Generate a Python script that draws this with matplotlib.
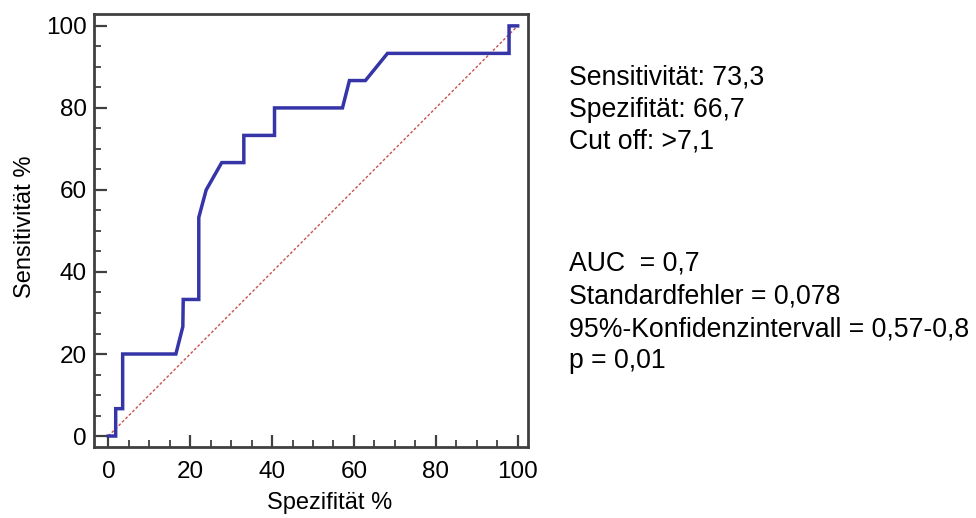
import matplotlib
matplotlib.use('Agg')
import matplotlib.pyplot as plt
from matplotlib.ticker import MultipleLocator

plt.rcParams['font.family'] = ['Liberation Sans', 'DejaVu Sans']

spez = [0, 1.8, 1.8, 3.5, 3.5, 16.5, 18.2, 18.3, 22.1, 22.1, 23.9, 27.7,
        33.1, 33.1, 40.6, 40.6, 57.2, 58.9, 62.8, 68.2, 97.9, 97.9, 100]
sens = [0, 0, 6.67, 6.67, 20, 20, 26.67, 33.3, 33.3, 53.3, 60, 66.67,
        66.67, 73.3, 73.3, 80, 80, 86.67, 86.67, 93.3, 93.3, 100, 100]
diag = [0, 100]

block1 = ['Sensitivität: 73,3', 'Spezifität: 66,7', 'Cut off: >7,1']
block2 = ['AUC  = 0,7', 'Standardfehler = 0,078',
          '95%-Konfidenzintervall = 0,57-0,8', 'p = 0,01']

W, H = 976, 518
fig = plt.figure(figsize=(W / 100, H / 100), dpi=100)
ax = fig.add_axes([94 / W, 1 - 446.7 / H, (528.3 - 94) / W, (446.7 - 14) / H])

ax.plot(diag, diag, color='#c8504a', lw=1.0, ls=(0, (2, 1.5)))
ax.plot(spez, sens, color='#3535a8', lw=2.5, solid_joinstyle='miter')

ax.set_xlim(-3.5, 102.6)
ax.set_ylim(-2.6, 102.9)
ax.xaxis.set_major_locator(MultipleLocator(20))
ax.xaxis.set_minor_locator(MultipleLocator(5))
ax.yaxis.set_major_locator(MultipleLocator(20))
ax.yaxis.set_minor_locator(MultipleLocator(5))
ax.tick_params(which='major', direction='in', length=9, width=1.6, color='#404040',
               labelsize=17.5, pad=10)
ax.tick_params(which='minor', direction='in', length=5, width=1.3, color='#404040')
ax.tick_params(axis='y', pad=5)
for s in ax.spines.values():
    s.set_linewidth(2.0)
    s.set_color('#404040')

fig.text(330 / W, 1 - 503 / H, 'Spezifität %', fontsize=17, ha='center', va='center')
fig.text(25 / W, 1 - 227 / H, 'Sensitivität %', fontsize=17, ha='center', va='center',
         rotation=90)

for i, t in enumerate(block1):
    fig.text(569 / W, 1 - (78 + 32 * i) / H, t, fontsize=19.2, va='center')
for i, t in enumerate(block2):
    fig.text(569 / W, 1 - (264 + 32.5 * i) / H, t, fontsize=19.2, va='center')

fig.savefig('out.png', dpi=100)
